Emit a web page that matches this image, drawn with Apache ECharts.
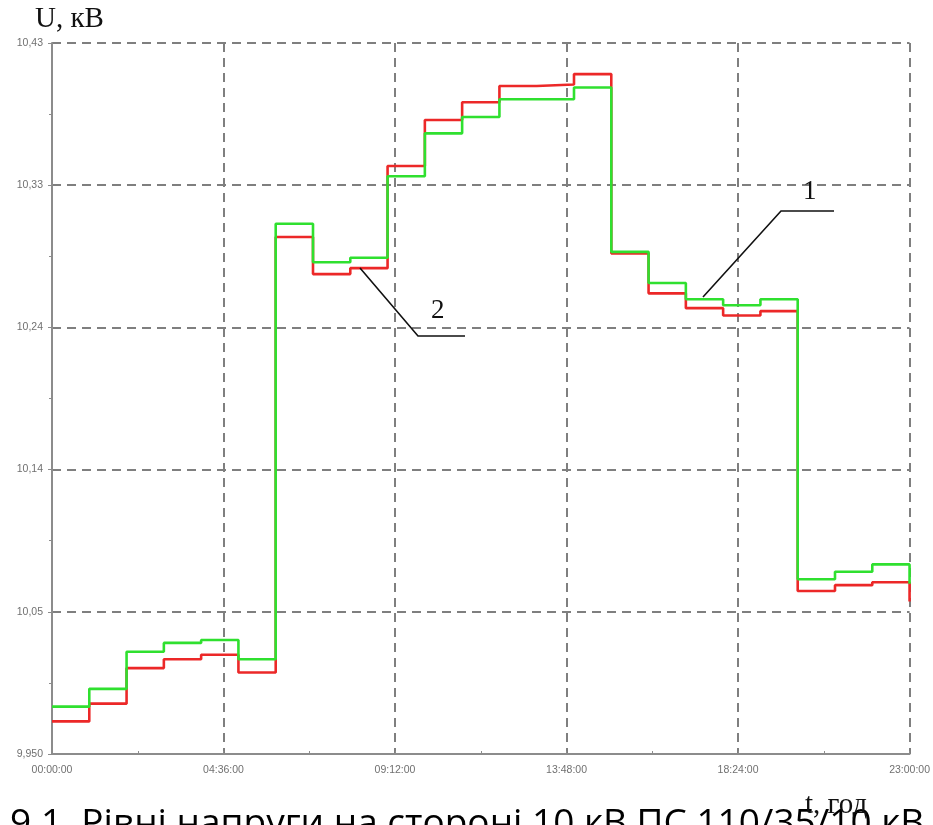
<!DOCTYPE html>
<html>
<head>
<meta charset="utf-8">
<script src="https://cdn.jsdelivr.net/npm/echarts@6/dist/echarts.min.js"></script>
<style>
html,body{margin:0;padding:0;background:#fff;overflow:hidden;}
#chart{width:933px;height:825px;}
</style>
</head>
<body>
<div id="chart"></div>
<script>
// Time of each reading, hours (step held until the next hour)
const hours = [0,1,2,3,4,5,6,7,8,9,10,11,12,13,14,15,16,17,18,19,20,21,22,23];
// Curve 1 (green), kV
const voltageGreen = [9.982,9.994,10.019,10.025,10.027,10.014,10.308,10.282,10.285,10.340,10.369,10.380,10.392,10.392,10.400,10.289,10.268,10.257,10.253,10.257,10.068,10.073,10.078,10.065];
// Curve 2 (red), kV
const voltageRed = [9.972,9.984,10.008,10.014,10.017,10.005,10.299,10.274,10.278,10.347,10.378,10.390,10.401,10.402,10.409,10.288,10.261,10.251,10.246,10.249,10.060,10.064,10.066,10.053];
// Axis tick labels
const xTickLabels = ['00:00:00','04:36:00','09:12:00','13:48:00','18:24:00','23:00:00'];
const yTickLabels = ['9,950','10,05','10,14','10,24','10,33','10,43'];
const yBase = 9.95;   // kV at the axis origin
const yTop = 10.43;   // kV at the top of the axis
const xSpanMin = 23 * 60;

// Axis works in mV above the base so that ticks start at the base value
const toAxis = v => Math.round((v - yBase) * 100000) / 100;
const yRange = toAxis(yTop);
const yStep = yRange / (yTickLabels.length - 1);
const xStep = xSpanMin / (xTickLabels.length - 1);

const mk = arr => hours.map((h, i) => [h * 60, toAxis(arr[i])]);

const chart = echarts.init(document.getElementById('chart'), null, {renderer: 'canvas'});
const gridColor = '#7f7f7f';
chart.setOption({
  animation: false,
  backgroundColor: '#ffffff',
  grid: {left: 52, right: 23, top: 43, bottom: 71, containLabel: false},
  xAxis: {
    type: 'value', min: 0, max: xSpanMin, interval: xStep,
    axisLine: {show: true, onZero: false, lineStyle: {color: '#8c8c8c', width: 2}},
    axisTick: {show: true, length: 3, inside: true, lineStyle: {color: '#8c8c8c'}},
    minorTick: {show: true, splitNumber: 2, length: 3, lineStyle: {color: '#8c8c8c'}},
    axisLabel: {
      color: '#707070', fontSize: 10.5, fontFamily: 'Liberation Sans', margin: 11,
      formatter: v => xTickLabels[Math.round(v / xStep)] || ''
    },
    splitLine: {show: true, lineStyle: {color: gridColor, width: 2, type: [9, 6]}}
  },
  yAxis: {
    type: 'value', min: 0, max: yRange, interval: yStep,
    axisLine: {show: true, onZero: false, lineStyle: {color: '#8c8c8c', width: 2}},
    axisTick: {show: true, length: 4, lineStyle: {color: '#8c8c8c'}},
    minorTick: {show: true, splitNumber: 2, length: 3, lineStyle: {color: '#8c8c8c'}},
    axisLabel: {
      color: '#707070', fontSize: 10.5, fontFamily: 'Liberation Sans', margin: 9,
      formatter: v => yTickLabels[Math.round(v / yStep)] || ''
    },
    splitLine: {show: true, lineStyle: {color: gridColor, width: 2, type: [9, 6]}}
  },
  series: [
    {
      name: '2', type: 'line', step: 'end', symbol: 'none', z: 3,
      data: mk(voltageRed),
      lineStyle: {color: '#ec2828', width: 2.6}
    },
    {
      name: '1', type: 'line', step: 'end', symbol: 'none', z: 4,
      data: mk(voltageGreen),
      lineStyle: {color: '#2fe02f', width: 2.6}
    }
  ],
  graphic: [
    {type: 'text', left: 35, top: 5, style: {text: 'U, кВ', font: '29px "Liberation Serif"', fill: '#111'}},
    {type: 'text', left: 805, top: 791, style: {text: 't, год', font: '29px "Liberation Serif"', fill: '#111'}, z: 20},
    {type: 'text', left: 10, top: 806, style: {text: '9.1. Рівні напруги на стороні 10 кВ ПС 110/35/10 кВ', font: '37px "Open Sans"', fill: '#000'}, z: 10},
    {type: 'polyline', shape: {points: [[703, 297], [781, 211], [834, 211]]}, style: {stroke: '#111', lineWidth: 1.6, fill: null}, z: 10},
    {type: 'text', left: 803, top: 178, style: {text: '1', font: '27px "Liberation Serif"', fill: '#111'}, z: 10},
    {type: 'polyline', shape: {points: [[360, 268], [418, 336], [465, 336]]}, style: {stroke: '#111', lineWidth: 1.6, fill: null}, z: 10},
    {type: 'text', left: 431, top: 297, style: {text: '2', font: '27px "Liberation Serif"', fill: '#111'}, z: 10}
  ]
});
</script>
</body>
</html>
